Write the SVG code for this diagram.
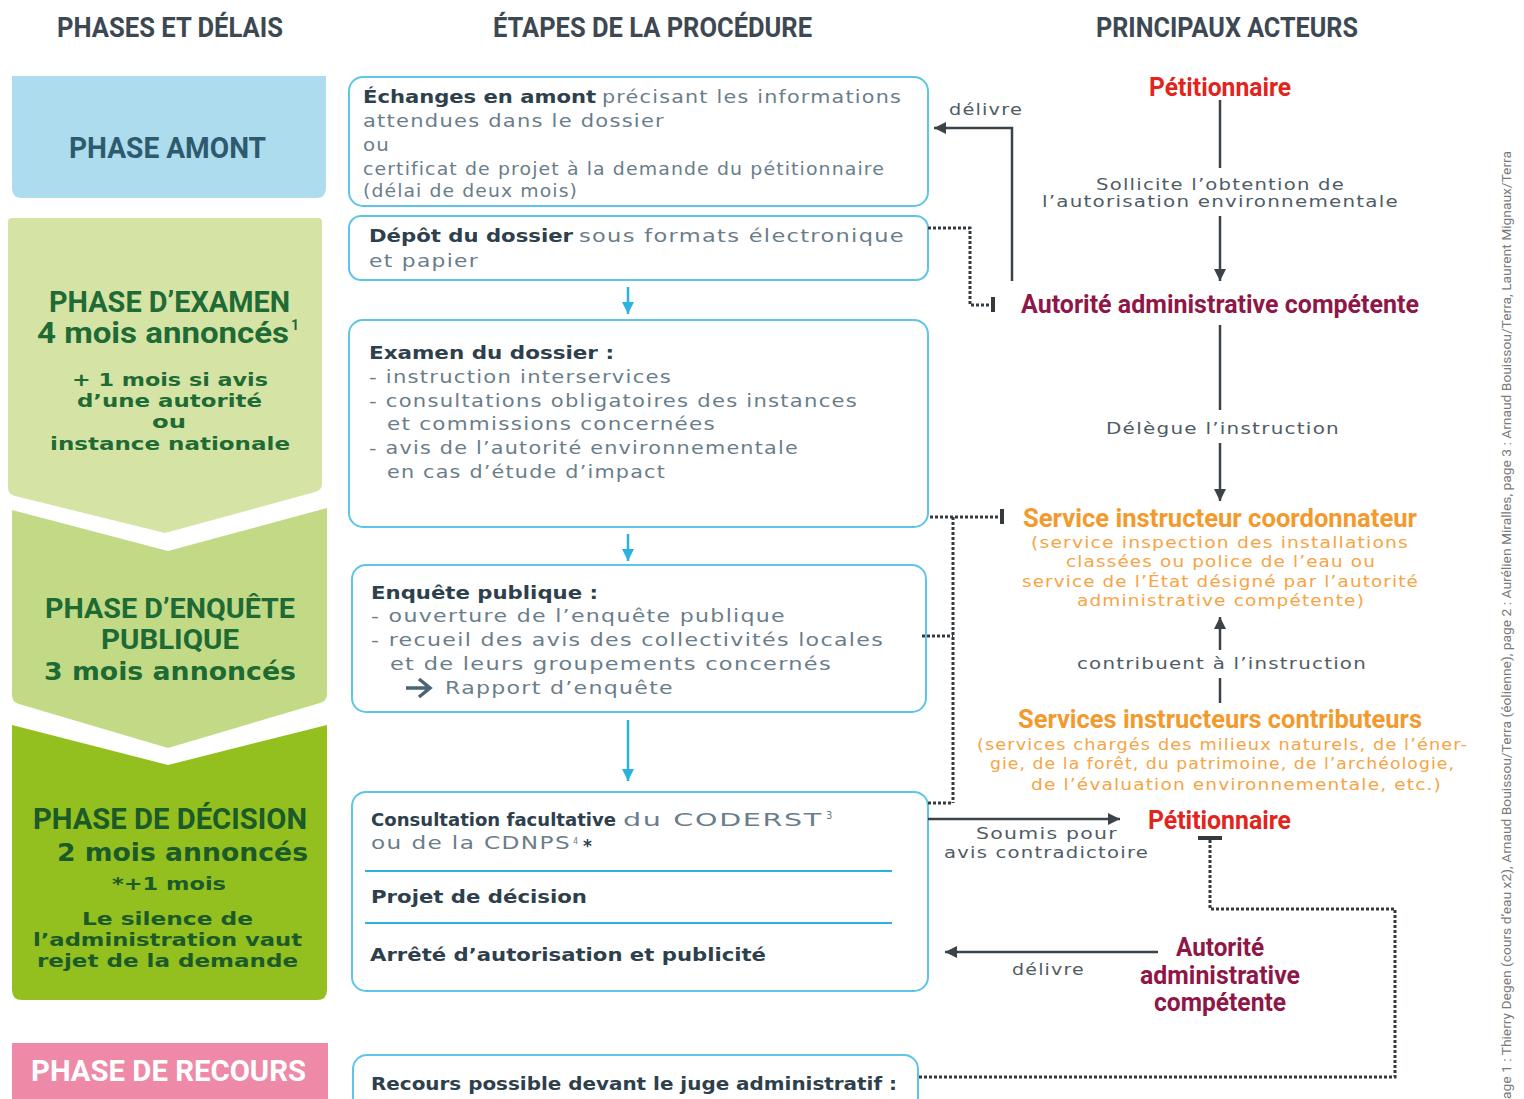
<svg xmlns="http://www.w3.org/2000/svg" width="1524" height="1099" viewBox="0 0 1524 1099">
<style>
.h{font-family:Roboto,"Liberation Sans",sans-serif;font-weight:700}
.g{font-family:"DejaVu Sans","Liberation Sans",sans-serif;font-size:17px;fill:#6a7d8a;letter-spacing:1px}
.gb{font-family:"DejaVu Sans","Liberation Sans",sans-serif;font-size:18px;font-weight:700;fill:#2d404c}
.hd{font-size:28px;fill:#3d4852}
.box{fill:#fff;stroke:#5dc5e7;stroke-width:2}
.ba{stroke:#2ab3e0;stroke-width:2.5;fill:none}
.dk{stroke:#3b4348;stroke-width:2.5;fill:none}
.dot{stroke:#333b40;stroke-width:3;stroke-dasharray:3 2;fill:none}
.bar{stroke:#333b40;stroke-width:4}
.red{fill:#e2241c;font-size:26px}
.mag{fill:#8e1747;font-size:26px}
.org{fill:#f39a2e;font-size:26px}
.os{font-family:"DejaVu Sans","Liberation Sans",sans-serif;font-size:16px;fill:#f6a444;letter-spacing:1px}
.gr{font-family:"DejaVu Sans","Liberation Sans",sans-serif;font-size:16px;fill:#4f5c66;letter-spacing:1px}
.lt{font-family:"DejaVu Sans","Liberation Sans",sans-serif;font-weight:700;font-size:18px}
.big{font-size:25px}
</style>
<defs>
<marker id="ab" viewBox="0 0 10 10" refX="10" refY="5" markerWidth="14" markerHeight="12" markerUnits="userSpaceOnUse" orient="auto"><path d="M0,0 L10,5 L0,10 z" fill="#2ab3e0"/></marker>
<marker id="ad" viewBox="0 0 10 10" refX="10" refY="5" markerWidth="12" markerHeight="14" markerUnits="userSpaceOnUse" orient="auto"><path d="M0,0 L10,5 L0,10 z" fill="#3b4348"/></marker>
</defs>

<g id="headers">
<text class="h hd" x="57" y="37" textLength="226" lengthAdjust="spacingAndGlyphs">PHASES ET DÉLAIS</text>
<text class="h hd" x="493" y="37" textLength="319" lengthAdjust="spacingAndGlyphs">ÉTAPES DE LA PROCÉDURE</text>
<text class="h hd" x="1096" y="37" textLength="262" lengthAdjust="spacingAndGlyphs">PRINCIPAUX ACTEURS</text>
</g>

<g id="phase-amont">
<path d="M12,76 H326 V188 Q326,198 316,198 H22 Q12,198 12,188 Z" fill="#acdcee"/>
<text class="h" x="69" y="158" font-size="30" fill="#2e5a6e" textLength="197" lengthAdjust="spacingAndGlyphs">PHASE AMONT</text>
</g>

<g id="phase-examen">
<path d="M8,222 Q8,218 12,218 H318 Q322,218 322,222 V484 Q322,490 315,492 L165,533 L15,496 Q8,494 8,488 Z" fill="#d5e4a5"/>
<g fill="#1f6b36">
<text class="h" x="49" y="312" font-size="29" textLength="241" lengthAdjust="spacingAndGlyphs">PHASE D’EXAMEN</text>
<text class="h" x="37" y="343" font-size="29" textLength="252" lengthAdjust="spacingAndGlyphs">4 mois annoncés</text>
<text class="h" x="291" y="330" font-size="14">1</text>
<text class="lt" x="72" y="386" textLength="196" lengthAdjust="spacingAndGlyphs">+ 1 mois si avis</text>
<text class="lt" x="77" y="407" textLength="185" lengthAdjust="spacingAndGlyphs">d’une autorité</text>
<text class="lt" x="152" y="428" textLength="34" lengthAdjust="spacingAndGlyphs">ou</text>
<text class="lt" x="50" y="450" textLength="240" lengthAdjust="spacingAndGlyphs">instance nationale</text>
</g>
</g>

<g id="phase-enquete">
<path d="M12,510 L168,551 L327,508 V694 Q327,701 320,703 L168,748 L19,704 Q12,702 12,695 Z" fill="#c2d986"/>
<g fill="#1d6a34">
<text class="h" x="45" y="618" font-size="28" textLength="250" lengthAdjust="spacingAndGlyphs">PHASE D’ENQUÊTE</text>
<text class="h" x="101" y="649" font-size="28" textLength="138" lengthAdjust="spacingAndGlyphs">PUBLIQUE</text>
<text class="lt big" x="44" y="680" textLength="252" lengthAdjust="spacingAndGlyphs">3 mois annoncés</text>
</g>
</g>

<g id="phase-decision">
<path d="M12,725 L168,765 L327,725 V990 Q327,1000 317,1000 H22 Q12,1000 12,990 Z" fill="#93bf1f"/>
<g fill="#1b5a29">
<text class="h" x="33" y="829" font-size="30" textLength="274" lengthAdjust="spacingAndGlyphs">PHASE DE DÉCISION</text>
<text class="lt big" x="57" y="861" textLength="251" lengthAdjust="spacingAndGlyphs">2 mois annoncés</text>
<text class="lt" x="112" y="890" textLength="114" lengthAdjust="spacingAndGlyphs">*+1 mois</text>
<text class="lt" x="82" y="925" textLength="171" lengthAdjust="spacingAndGlyphs">Le silence de</text>
<text class="lt" x="33" y="946" textLength="269" lengthAdjust="spacingAndGlyphs">l’administration vaut</text>
<text class="lt" x="37" y="967" textLength="261" lengthAdjust="spacingAndGlyphs">rejet de la demande</text>
</g>
</g>

<g id="phase-recours">
<rect x="12" y="1043" width="316" height="60" fill="#ee89a8"/>
<text class="h" x="31" y="1081" font-size="29" fill="#fff" textLength="275" lengthAdjust="spacingAndGlyphs">PHASE DE RECOURS</text>
</g>

<g id="etape-echanges">
<rect class="box" x="349" y="77" width="579" height="129" rx="14"/>
<text class="gb" x="363" y="103" textLength="233" lengthAdjust="spacingAndGlyphs">Échanges en amont</text>
<text class="g" x="602" y="103" textLength="300" lengthAdjust="spacingAndGlyphs">précisant les informations</text>
<text class="g" x="363" y="127" textLength="302" lengthAdjust="spacingAndGlyphs">attendues dans le dossier</text>
<text class="g" x="363" y="151" textLength="27" lengthAdjust="spacingAndGlyphs">ou</text>
<text class="g" x="363" y="175" textLength="522" lengthAdjust="spacingAndGlyphs">certificat de projet à la demande du pétitionnaire</text>
<text class="g" x="363" y="197" textLength="215" lengthAdjust="spacingAndGlyphs">(délai de deux mois)</text>
</g>

<g id="etape-depot">
<rect class="box" x="349" y="216" width="579" height="64" rx="12"/>
<text class="gb" x="369" y="242" textLength="204" lengthAdjust="spacingAndGlyphs">Dépôt du dossier</text>
<text class="g" x="579" y="242" textLength="326" lengthAdjust="spacingAndGlyphs">sous formats électronique</text>
<text class="g" x="369" y="267" textLength="110" lengthAdjust="spacingAndGlyphs">et papier</text>
</g>

<g id="etape-examen">
<rect class="box" x="349" y="320" width="579" height="207" rx="14"/>
<text class="gb" x="369" y="359" textLength="245" lengthAdjust="spacingAndGlyphs">Examen du dossier :</text>
<text class="g" x="369" y="383" textLength="303" lengthAdjust="spacingAndGlyphs">- instruction interservices</text>
<text class="g" x="369" y="407" textLength="489" lengthAdjust="spacingAndGlyphs">- consultations obligatoires des instances</text>
<text class="g" x="387" y="430" textLength="329" lengthAdjust="spacingAndGlyphs">et commissions concernées</text>
<text class="g" x="369" y="454" textLength="430" lengthAdjust="spacingAndGlyphs">- avis de l’autorité environnementale</text>
<text class="g" x="387" y="478" textLength="279" lengthAdjust="spacingAndGlyphs">en cas d’étude d’impact</text>
</g>

<g id="etape-enquete">
<rect class="box" x="352" y="565" width="574" height="147" rx="14"/>
<text class="gb" x="371" y="599" textLength="227" lengthAdjust="spacingAndGlyphs">Enquête publique :</text>
<text class="g" x="371" y="622" textLength="415" lengthAdjust="spacingAndGlyphs">- ouverture de l’enquête publique</text>
<text class="g" x="371" y="646" textLength="513" lengthAdjust="spacingAndGlyphs">- recueil des avis des collectivités locales</text>
<text class="g" x="390" y="670" textLength="442" lengthAdjust="spacingAndGlyphs">et de leurs groupements concernés</text>
<path d="M406,688 H428 M419,679 L430,688 L419,697" stroke="#4b6474" stroke-width="3.5" fill="none"/>
<text class="g" x="445" y="694" textLength="229" lengthAdjust="spacingAndGlyphs">Rapport d’enquête</text>
</g>

<g id="etape-decision">
<rect class="box" x="352" y="792" width="576" height="199" rx="14"/>
<text class="gb" x="371" y="826" textLength="245" lengthAdjust="spacingAndGlyphs">Consultation facultative</text>
<text class="g" x="623" y="826" textLength="200" lengthAdjust="spacingAndGlyphs">du CODERST</text>
<text class="g" x="826" y="819" style="font-size:10px;letter-spacing:0">3</text>
<text class="g" x="371" y="849" textLength="200" lengthAdjust="spacingAndGlyphs">ou de la CDNPS</text>
<text class="g" x="573" y="844" style="font-size:8px;letter-spacing:0">4</text>
<text class="gb" x="583" y="852" style="font-size:17px">*</text>
<line x1="365" y1="871" x2="892" y2="871" stroke="#2ab3e0" stroke-width="2"/>
<text class="gb" x="371" y="903" textLength="216" lengthAdjust="spacingAndGlyphs">Projet de décision</text>
<line x1="365" y1="923" x2="892" y2="923" stroke="#2ab3e0" stroke-width="2"/>
<text class="gb" x="370" y="961" textLength="396" lengthAdjust="spacingAndGlyphs">Arrêté d’autorisation et publicité</text>
</g>

<g id="etape-recours">
<rect class="box" x="353" y="1055" width="565" height="70" rx="14"/>
<text class="gb" x="371" y="1090" textLength="526" lengthAdjust="spacingAndGlyphs">Recours possible devant le juge administratif :</text>
</g>

<g id="acteur-petitionnaire-1">
<text class="h red" x="1149" y="96" textLength="142" lengthAdjust="spacingAndGlyphs">Pétitionnaire</text>
</g>
<g id="acteur-autorite-1">
<text class="h mag" x="1021" y="313" textLength="398" lengthAdjust="spacingAndGlyphs">Autorité administrative compétente</text>
</g>
<g id="acteur-service-coordonnateur">
<text class="h org" x="1023" y="527" textLength="394" lengthAdjust="spacingAndGlyphs">Service instructeur coordonnateur</text>
<text class="os" x="1031" y="548" textLength="378" lengthAdjust="spacingAndGlyphs">(service inspection des installations</text>
<text class="os" x="1066" y="567" textLength="310" lengthAdjust="spacingAndGlyphs">classées ou police de l’eau ou</text>
<text class="os" x="1022" y="587" textLength="397" lengthAdjust="spacingAndGlyphs">service de l’État désigné par l’autorité</text>
<text class="os" x="1077" y="606" textLength="288" lengthAdjust="spacingAndGlyphs">administrative compétente)</text>
</g>
<g id="acteur-services-contributeurs">
<text class="h org" x="1018" y="728" textLength="404" lengthAdjust="spacingAndGlyphs">Services instructeurs contributeurs</text>
<text class="os" x="977" y="750" textLength="491" lengthAdjust="spacingAndGlyphs">(services chargés des milieux naturels, de l’éner-</text>
<text class="os" x="990" y="769" textLength="465" lengthAdjust="spacingAndGlyphs">gie, de la forêt, du patrimoine, de l’archéologie,</text>
<text class="os" x="1031" y="790" textLength="411" lengthAdjust="spacingAndGlyphs">de l’évaluation environnementale, etc.)</text>
</g>
<g id="acteur-petitionnaire-2">
<text class="h red" x="1148" y="829" textLength="143" lengthAdjust="spacingAndGlyphs">Pétitionnaire</text>
</g>
<g id="acteur-autorite-2">
<text class="h mag" x="1176" y="956" textLength="88" lengthAdjust="spacingAndGlyphs">Autorité</text>
<text class="h mag" x="1140" y="984" textLength="160" lengthAdjust="spacingAndGlyphs">administrative</text>
<text class="h mag" x="1154" y="1011" textLength="132" lengthAdjust="spacingAndGlyphs">compétente</text>
</g>

<g id="connectors">
<line class="ba" x1="628" y1="287" x2="628" y2="314" marker-end="url(#ab)"/>
<line class="ba" x1="628" y1="534" x2="628" y2="561" marker-end="url(#ab)"/>
<line class="ba" x1="628" y1="720" x2="628" y2="781" marker-end="url(#ab)"/>

<polyline class="dk" points="1012,281 1012,128 934,128" marker-end="url(#ad)"/>
<text class="gr" x="949" y="115" textLength="74" lengthAdjust="spacingAndGlyphs">délivre</text>

<line class="dk" x1="1220" y1="100" x2="1220" y2="168"/>
<text class="gr" x="1096" y="190" textLength="249" lengthAdjust="spacingAndGlyphs">Sollicite l’obtention de</text>
<text class="gr" x="1042" y="207" textLength="357" lengthAdjust="spacingAndGlyphs">l’autorisation environnementale</text>
<line class="dk" x1="1220" y1="216" x2="1220" y2="281" marker-end="url(#ad)"/>

<line class="dk" x1="1220" y1="325" x2="1220" y2="410"/>
<text class="gr" x="1106" y="434" textLength="234" lengthAdjust="spacingAndGlyphs">Délègue l’instruction</text>
<line class="dk" x1="1220" y1="443" x2="1220" y2="501" marker-end="url(#ad)"/>

<line class="dk" x1="1220" y1="650" x2="1220" y2="617" marker-end="url(#ad)"/>
<text class="gr" x="1077" y="669" textLength="290" lengthAdjust="spacingAndGlyphs">contribuent à l’instruction</text>
<line class="dk" x1="1220" y1="678" x2="1220" y2="703"/>

<line class="dk" x1="928" y1="819" x2="1120" y2="819" marker-end="url(#ad)"/>
<text class="gr" x="976" y="839" textLength="142" lengthAdjust="spacingAndGlyphs">Soumis pour</text>
<text class="gr" x="944" y="858" textLength="205" lengthAdjust="spacingAndGlyphs">avis contradictoire</text>

<line class="dk" x1="1158" y1="952" x2="945" y2="952" marker-end="url(#ad)"/>
<text class="gr" x="1012" y="975" textLength="73" lengthAdjust="spacingAndGlyphs">délivre</text>

<polyline class="dot" points="928,228 970,228 970,305 990,305"/>
<line class="bar" x1="993" y1="297" x2="993" y2="312"/>
<polyline class="dot" points="930,517 1000,517"/>
<line class="bar" x1="1002" y1="509" x2="1002" y2="524"/>
<polyline class="dot" points="953,517 953,803"/>
<polyline class="dot" points="922,636 953,636"/>
<polyline class="dot" points="928,803 953,803"/>
<polyline class="dot" points="1210,840 1210,909 1395,909 1395,1077 918,1077"/>
<line class="bar" x1="1198" y1="838" x2="1222" y2="838"/>
</g>

<text transform="translate(1511,1099) rotate(-90)" font-family="Roboto,'Liberation Sans',sans-serif" font-size="13" fill="#7a7a7a" textLength="948" lengthAdjust="spacingAndGlyphs">age 1 : Thierry Degen (cours d’eau x2), Arnaud Bouissou/Terra (éolienne), page 2 : Aurélien Miralles, page 3 : Arnaud Bouissou/Terra, Laurent Mignaux/Terra</text>
</svg>
